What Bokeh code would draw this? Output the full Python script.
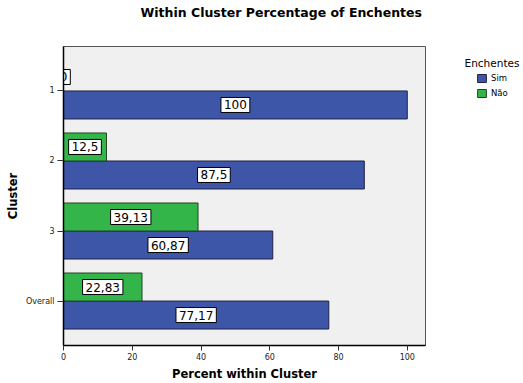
from bokeh.plotting import figure
from bokeh.layouts import row
from bokeh.models import ColumnDataSource, Range1d, FixedTicker, Label, Legend, LegendItem
from bokeh.core.properties import value
from bokeh.embed import file_html
from bokeh.resources import INLINE

# Cluster percentages of Enchentes (Sim / Não)
clusters = ["1", "2", "3", "Overall"]
sim = [100, 87.5, 60.87, 77.17]
nao = [0, 12.5, 39.13, 22.83]
series = ["Sim", "Não"]

SIM_COLOR = "#3d56a8"
NAO_COLOR = "#33b54a"
FONT = "DejaVu Sans"

def fmt(v):
    return ("%g" % v).replace(".", ",")

pos = list(range(len(clusters)))
bar_h = 0.4

sim_src = ColumnDataSource(dict(
    y=[p + bar_h / 2 for p in pos], right=sim,
    xm=[v / 2 for v in sim], lab=[fmt(v) for v in sim]))
nao_src = ColumnDataSource(dict(
    y=[p - bar_h / 2 for p in pos], right=nao,
    xm=[v / 2 for v in nao], lab=[fmt(v) for v in nao]))
sources = {"Sim": sim_src, "Não": nao_src}

p = figure(width=440, height=383, output_backend="svg", toolbar_location=None,
           x_range=Range1d(0, 105.3), y_range=Range1d(3.635, -0.635),
           min_border_left=63, min_border_right=15, min_border_top=46, min_border_bottom=37)

p.background_fill_color = "#f0f0f0"
p.border_fill_color = "white"
p.outline_line_color = "#555555"
p.outline_line_width = 1
p.xgrid.visible = False
p.ygrid.visible = False

p.title.text = "Within Cluster Percentage of Enchentes"
p.title.align = "left"
p.title.vertical_align = "bottom"
p.title.offset = 77
p.title.standoff = 0
p.title.padding = dict(left=0, right=0, top=0, bottom=27)
p.title.text_font = FONT
p.title.text_font_size = "12.5px"
p.title.text_font_style = "bold"
p.title.text_color = "black"

style = dict(Sim=dict(fill_color=SIM_COLOR, line_color="#222244"),
             Não=dict(fill_color=NAO_COLOR, line_color="#224422"))

for name in series:
    p.hbar(y="y", right="right", left=0, height=bar_h, source=sources[name],
           line_width=1, **style[name])

for name in series:
    p.text(x="xm", y="y", text="lab", source=sources[name], text_align="center",
           text_baseline="middle", text_font=value(FONT), text_font_size="12px",
           text_color="black", background_fill_color="white",
           border_line_color="black", border_line_width=1, padding=3)

# axes
p.xaxis.ticker = FixedTicker(ticks=[0, 20, 40, 60, 80, 100])
p.xaxis.axis_label = "Percent within Cluster"
p.yaxis.ticker = FixedTicker(ticks=pos)
p.yaxis.major_label_overrides = {i: c for i, c in enumerate(clusters)}
p.yaxis.axis_label = "Cluster"
for ax in (p.xaxis[0], p.yaxis[0]):
    ax.axis_line_color = "black"
    ax.axis_line_width = 1.5
    ax.major_tick_line_color = "#333333"
    ax.major_tick_in = 0
    ax.major_tick_out = 5
    ax.minor_tick_line_color = None
    ax.major_label_text_font = FONT
    ax.major_label_text_font_size = "8px"
    ax.major_label_text_color = "#222222"
    ax.axis_label_text_font = FONT
    ax.axis_label_text_font_size = "11.5px"
    ax.axis_label_text_font_style = "bold"
    ax.axis_label_text_color = "black"
p.yaxis.major_tick_out = 6
p.xaxis.major_label_standoff = 2
p.xaxis.axis_label_standoff = 4
p.yaxis.major_label_standoff = 3
p.yaxis.axis_label_standoff = 3

# legend panel beside the chart (its frame lines up with the chart's frame);
# its ranges sit away from the data so only the legend shows
lg = figure(width=83, height=383, output_backend="svg", toolbar_location=None,
            x_range=Range1d(-2, -1), y_range=Range1d(0, 1),
            x_axis_type=None, y_axis_type=None,
            min_border_left=0, min_border_right=0, min_border_top=0, min_border_bottom=0)
lg.outline_line_color = None
lg.background_fill_color = "white"
lg.xgrid.visible = False
lg.ygrid.visible = False

items = []
for name in series:
    r = lg.hbar(y="y", right="right", left=0, height=bar_h, source=sources[name],
                line_width=1, **style[name])
    items.append(LegendItem(label=name, renderers=[r]))

legend = Legend(items=items, location=(36, 247),
                label_text_font=FONT, label_text_font_size="8.5px", label_text_color="black",
                glyph_width=11, glyph_height=10, label_height=10, label_standoff=4,
                spacing=5, padding=0, margin=0,
                background_fill_alpha=0, border_line_color=None)
lg.add_layout(legend, "center")

lg.add_layout(Label(x=51.5, y=283, x_units="screen", y_units="screen",
                    text="Enchentes", text_align="center", text_baseline="middle",
                    text_font=FONT, text_font_size="10.5px", text_color="black"))

open("out.html", "w").write(file_html(row(p, lg), INLINE))
